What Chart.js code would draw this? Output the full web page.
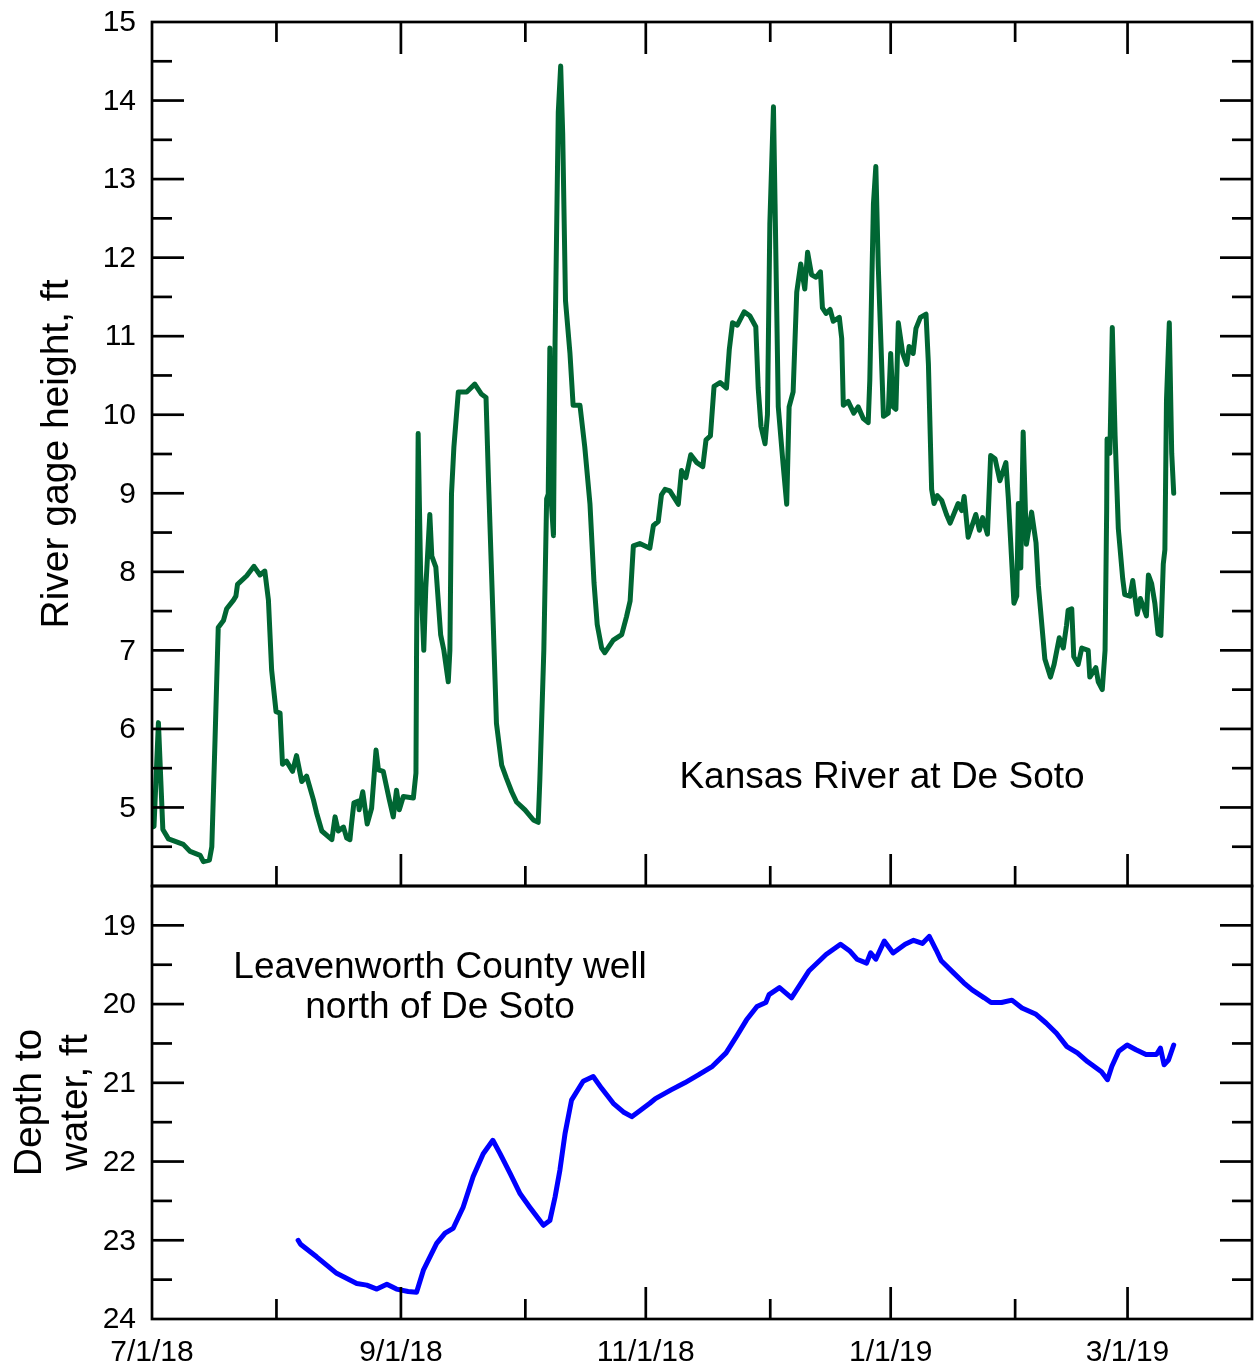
<!DOCTYPE html>
<html>
<head>
<meta charset="utf-8">
<script src="https://cdn.jsdelivr.net/npm/chart.js@4.4.1/dist/chart.umd.min.js"></script>
<style>
html,body{margin:0;padding:0;background:#fff;}
#wrap{position:relative;width:1254px;height:1369px;overflow:hidden;background:#fff;}
#topc{position:absolute;left:0;top:0;}
#botc{position:absolute;left:0;top:870px;}
</style>
</head>
<body>
<div id="wrap">
<canvas id="topc" width="1254" height="900"></canvas>
<canvas id="botc" width="1254" height="499"></canvas>
</div>
<script>
// ---------- DATA (days since 7/1/18) ----------
const riverDays = [0,0.5,1.6,2.7,4.1,7.8,9.5,12.0,12.8,14.3,14.9,15.7,16.5,17.8,18.6,20.3,20.9,21.3,23.6,25.4,26.9,28.1,29.0,29.8,30.9,31.9,32.5,33.5,35.0,36.0,37.3,38.5,40.2,41.0,42.3,44.8,45.6,46.4,47.7,48.5,49.3,49.7,50.3,51.4,51.6,52.5,53.6,54.7,55.8,56.4,57.6,59.1,60.1,60.9,61.6,62.6,65.1,65.75,65.9,66.3,66.9,67.7,68.2,69.2,69.7,70.7,71.9,72.7,73.8,74.2,74.6,75.2,76.3,78.4,80.4,82.1,83.2,83.8,85.0,85.8,87.1,88.3,89.6,90.8,92.9,95.0,96.2,96.6,97.6,98.3,98.7,99.1,99.5,100.0,100.4,101.2,101.8,102.3,103.0,104.1,104.9,106.6,107.8,109.1,110.1,110.9,112.0,112.8,114.9,117.0,118.2,119.1,119.9,121.5,124.0,124.9,126.1,126.9,127.8,129.0,131.1,131.9,133.0,134.2,135.7,137.2,138.0,139.1,140.0,141.5,143.1,143.8,144.6,145.8,147.5,148.9,150.4,151.0,151.7,152.7,153.3,153.9,154.8,155.2,156.0,157.2,158.1,158.7,159.7,160.6,161.6,162.6,163.3,164.3,165.4,166.5,167.0,167.9,168.9,169.7,171.2,171.8,172.2,173.4,174.8,175.9,177.2,178.4,178.8,179.7,180.3,180.9,182.2,183.4,184.0,184.6,185.3,185.9,187.0,188.0,188.6,189.6,190.3,191.4,192.8,193.4,194.2,194.8,195.6,196.7,197.9,198.8,200.8,201.7,202.3,203.3,205.2,206.1,206.9,208.1,208.9,210.0,211.2,212.7,213.3,213.9,214.7,215.4,215.8,216.4,217.0,217.8,219.1,220.2,220.8,222.4,223.8,224.7,226.0,227.0,227.8,228.2,229.1,229.6,230.7,231.6,233.2,233.6,235.1,235.7,236.7,237.4,237.8,237.9,238.6,239.2,239.9,240.7,241.8,242.3,243.6,244.3,245.4,246.2,247.7,248.2,249.0,249.8,250.6,251.3,251.9,252.3,252.7,253.4,254.0,254.5];
const riverHeight = [4.75,4.76,6.08,4.72,4.6,4.53,4.44,4.39,4.31,4.33,4.5,5.86,7.29,7.38,7.53,7.64,7.69,7.84,7.95,8.07,7.96,8.01,7.64,6.75,6.22,6.20,5.55,5.59,5.46,5.66,5.33,5.40,5.10,4.93,4.70,4.59,4.88,4.70,4.75,4.61,4.59,4.79,5.06,5.08,4.97,5.20,4.79,4.99,5.73,5.48,5.46,5.10,4.88,5.22,4.97,5.14,5.12,5.44,7.0,9.76,8.0,7.0,7.8,8.73,8.2,8.06,7.2,7.0,6.6,7.0,8.99,9.59,10.29,10.29,10.39,10.26,10.22,9.19,7.33,6.07,5.54,5.37,5.20,5.07,4.97,4.84,4.81,5.34,7.0,8.93,8.99,10.85,8.86,8.46,10.92,13.85,14.44,13.58,11.45,10.79,10.12,10.12,9.59,8.86,7.86,7.33,7.03,6.97,7.13,7.20,7.43,7.63,8.33,8.36,8.30,8.59,8.64,8.98,9.05,9.03,8.86,9.29,9.20,9.49,9.39,9.34,9.68,9.73,10.36,10.41,10.34,10.83,11.17,11.14,11.31,11.26,11.12,10.34,9.85,9.63,10.0,12.43,13.92,12.68,10.10,9.37,8.86,10.10,10.29,11.56,11.92,11.60,12.07,11.78,11.75,11.82,11.36,11.29,11.34,11.19,11.24,10.97,10.12,10.17,10.02,10.10,9.95,9.90,10.44,12.68,13.16,11.90,9.98,10.02,10.78,10.10,10.07,11.17,10.78,10.64,10.87,10.78,11.10,11.24,11.28,10.64,9.05,8.87,8.97,8.91,8.73,8.62,8.87,8.78,8.96,8.44,8.73,8.53,8.69,8.48,9.48,9.44,9.16,9.39,8.94,8.37,7.60,7.69,8.87,8.05,9.78,8.35,8.76,8.37,7.82,6.89,6.66,6.82,7.16,7.03,7.32,7.51,7.53,6.92,6.82,7.03,7.0,6.66,6.78,6.60,6.50,7.0,8.78,9.69,9.51,11.11,9.73,8.55,7.91,7.71,7.69,7.89,7.46,7.66,7.44,7.96,7.85,7.60,7.21,7.19,8.10,8.28,10.19,11.17,9.51,9.0];

const wellDays = [36.4,37.0,41.0,46.0,51.0,53.5,56.0,58.5,60.9,63.8,65.9,67.6,70.9,73.0,75.0,77.5,80.0,82.5,84.9,86.7,89.2,91.7,94.1,97.5,99.1,100.4,101.6,102.9,104.5,107.4,109.9,112.0,114.9,117.4,119.5,121.1,124.0,125.4,129.3,132.7,136.1,139.6,143.0,145.6,148.1,150.7,152.9,153.7,156.3,159.3,163.6,167.9,171.5,173.9,175.6,178.0,179.0,180.3,182.4,184.6,187.6,189.7,191.9,193.6,195.3,196.6,199.6,202.2,204.3,207.3,209.0,211.6,214.2,216.7,220.2,222.7,225.3,227.9,230.5,233.0,236.5,238.0,239.1,240.8,242.9,245.1,247.6,250.2,251.2,252.1,253.2,254.5];
const wellDepth = [23.0,23.05,23.21,23.42,23.55,23.57,23.62,23.56,23.62,23.65,23.66,23.38,23.04,22.91,22.85,22.58,22.19,21.90,21.73,21.90,22.15,22.41,22.58,22.81,22.75,22.45,22.11,21.64,21.22,20.98,20.92,21.07,21.26,21.37,21.43,21.37,21.26,21.20,21.09,21.0,20.90,20.79,20.62,20.41,20.20,20.03,19.98,19.88,19.79,19.92,19.58,19.37,19.24,19.33,19.43,19.48,19.35,19.43,19.20,19.35,19.24,19.19,19.23,19.14,19.31,19.45,19.60,19.73,19.82,19.92,19.98,19.98,19.95,20.05,20.13,20.24,20.37,20.54,20.62,20.73,20.86,20.96,20.79,20.60,20.52,20.58,20.64,20.64,20.56,20.77,20.71,20.52];

// ---------- TICKS / LABELS ----------
const monthTickDays = [31,62,93,123,154,184,215,243];
const dateTickDays = [0,62,123,184,243];
const dateTickLabels = ['7/1/18','9/1/18','11/1/18','1/1/19','3/1/19'];
const riverTicks = [5,6,7,8,9,10,11,12,13,14,15];
const wellTicks = [19,20,21,22,23,24];

const FONT = '"Liberation Sans", Arial, Helvetica, sans-serif';
const TICK_FONT = '30px ' + FONT;
const TITLE_FONT = '39px ' + FONT;
const NOTE_FONT = '37px ' + FONT;
const MAJOR = 32, MINOR = 20, LW = 2.7;

function seg(ctx, x1, y1, x2, y2) { ctx.beginPath(); ctx.moveTo(x1, y1); ctx.lineTo(x2, y2); ctx.stroke(); }

function makeFramePlugin(cfg) {
  return {
    id: 'frame_' + cfg.name,
    afterDraw(chart) {
      const ctx = chart.ctx, a = chart.chartArea, xs = chart.scales.x, ys = chart.scales.y;
      ctx.save();
      ctx.strokeStyle = '#000';
      ctx.lineWidth = LW;
      ctx.lineCap = 'butt';
      ctx.strokeRect(a.left, a.top, a.right - a.left, a.bottom - a.top);
      for (let k = 1; ; k++) {
        const v = cfg.yMin + 0.5 * k;
        if (v >= cfg.yMax - 1e-6) break;
        const y = ys.getPixelForValue(v);
        const len = Math.abs(v - Math.round(v)) < 1e-6 ? MAJOR : MINOR;
        seg(ctx, a.left, y, a.left + len, y);
        seg(ctx, a.right, y, a.right - len, y);
      }
      monthTickDays.forEach(d => {
        const x = xs.getPixelForValue(d);
        const len = dateTickDays.includes(d) ? MAJOR : MINOR;
        if (cfg.topTicks) seg(ctx, x, a.top, x, a.top + len);
        seg(ctx, x, a.bottom, x, a.bottom - len);
      });
      ctx.fillStyle = '#000';
      ctx.font = TICK_FONT;
      ctx.textAlign = 'right';
      ctx.textBaseline = 'middle';
      cfg.yLabels.forEach(v => ctx.fillText(String(v), 136, ys.getPixelForValue(v) + 1));
      if (cfg.xLabels) {
        ctx.textAlign = 'center';
        ctx.textBaseline = 'middle';
        dateTickDays.forEach((d, i) => ctx.fillText(dateTickLabels[i], xs.getPixelForValue(d), a.bottom + 34));
      }
      ctx.font = TITLE_FONT;
      ctx.textAlign = 'center';
      ctx.textBaseline = 'middle';
      const cy = (a.top + a.bottom) / 2 + cfg.titleDy;
      cfg.title.forEach((t, i) => {
        ctx.save();
        ctx.translate(cfg.titleX[i], cy);
        ctx.rotate(-Math.PI / 2);
        ctx.fillText(t, 0, 0);
        ctx.restore();
      });
      ctx.font = NOTE_FONT;
      cfg.notes.forEach(n => ctx.fillText(n.text, n.x, n.y));
      ctx.restore();
    }
  };
}

const baseOpts = (yMin, yMax, reverse, pad) => ({
  responsive: false,
  animation: false,
  events: [],
  layout: { padding: pad },
  plugins: { legend: { display: false }, tooltip: { enabled: false } },
  scales: {
    x: { type: 'linear', min: 0, max: 274, display: false },
    y: { type: 'linear', min: yMin, max: yMax, reverse: reverse, display: false }
  }
});

new Chart(document.getElementById('topc'), {
  type: 'line',
  data: {
    datasets: [{
      label: 'Kansas River at De Soto',
      data: riverDays.map((d, i) => ({ x: d, y: riverHeight[i] })),
      borderColor: '#006633',
      borderWidth: 5,
      pointRadius: 0,
      tension: 0,
      borderJoinStyle: 'round',
      borderCapStyle: 'round',
      fill: false
    }]
  },
  options: baseOpts(4, 15, false, { left: 152, right: 2, top: 22, bottom: 14 }),
  plugins: [makeFramePlugin({
    name: 'top', yMin: 4, yMax: 15, topTicks: true, xLabels: false,
    yLabels: riverTicks,
    title: ['River gage height, ft'], titleX: [57], titleDy: 0,
    notes: [{ text: 'Kansas River at De Soto', x: 882, y: 778 }]
  })]
});

new Chart(document.getElementById('botc'), {
  type: 'line',
  data: {
    datasets: [{
      label: 'Leavenworth County well north of De Soto',
      data: wellDays.map((d, i) => ({ x: d, y: wellDepth[i] })),
      borderColor: '#0000ff',
      borderWidth: 5,
      pointRadius: 0,
      tension: 0,
      borderJoinStyle: 'round',
      borderCapStyle: 'round',
      fill: false
    }]
  },
  options: baseOpts(18.5, 24, true, { left: 152, right: 2, top: 16, bottom: 50 }),
  plugins: [makeFramePlugin({
    name: 'bot', yMin: 18.5, yMax: 24, topTicks: false, xLabels: true,
    yLabels: wellTicks,
    title: ['Depth to', 'water, ft'], titleX: [30, 76], titleDy: 0,
    notes: [{ text: 'Leavenworth County well', x: 440, y: 968 - 870 }, { text: 'north of De Soto', x: 440, y: 1008 - 870 }]
  })]
});
</script>
</body>
</html>
